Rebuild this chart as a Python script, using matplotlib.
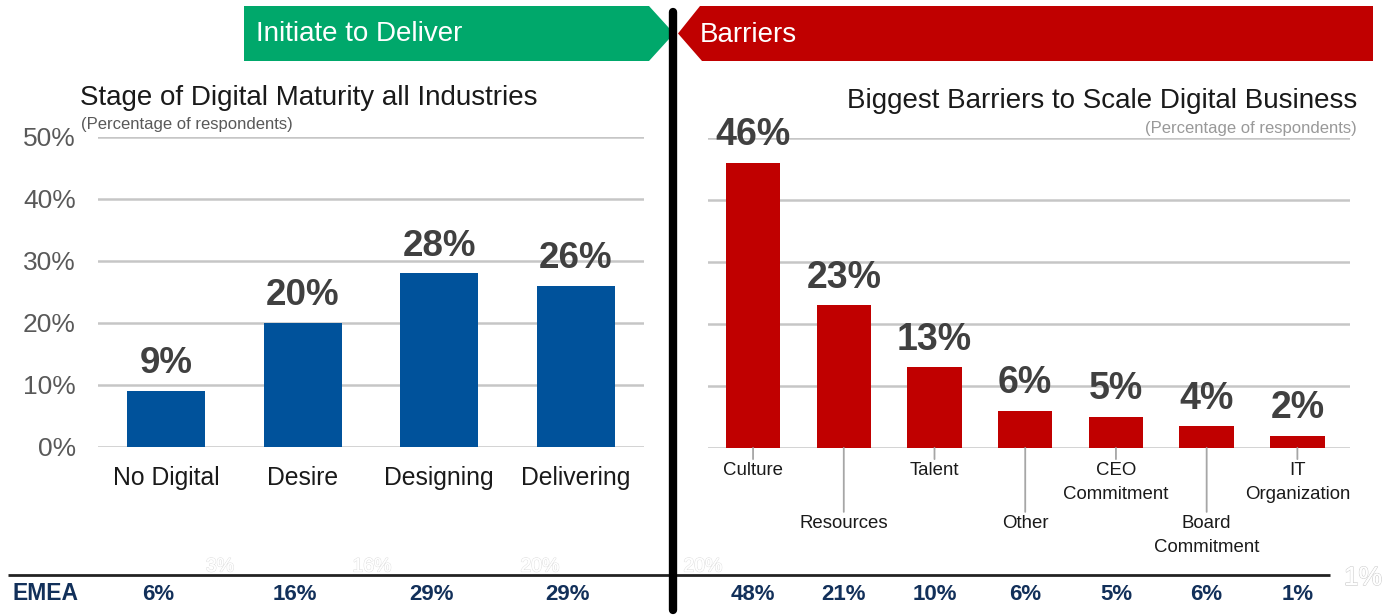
import matplotlib
matplotlib.use("Agg")
import matplotlib.pyplot as plt
from matplotlib.patches import Polygon
import matplotlib.patheffects as pe
import matplotlib.transforms as mtransforms

plt.rcParams['font.family'] = ['Liberation Sans', 'DejaVu Sans']

# ---- data ----
left_categories = ["No Digital", "Desire", "Designing", "Delivering"]
left_values = [9, 20, 28, 26]
left_labels = ["9%", "20%", "28%", "26%"]
left_emea = ["6%", "16%", "29%", "29%"]

right_categories = ["Culture", "Resources", "Talent", "Other", "CEO\nCommitment",
                    "Board\nCommitment", "IT\nOrganization"]
right_values = [46, 23, 13, 6, 5, 3.5, 2]
right_labels = ["46%", "23%", "13%", "6%", "5%", "4%", "2%"]
right_emea = ["48%", "21%", "10%", "6%", "5%", "6%", "1%"]
right_levels = [0, 1, 0, 1, 0, 1, 0]  # label staggering

yticks = [0, 10, 20, 30, 40, 50]
ytick_labels = ["0%", "10%", "20%", "30%", "40%", "50%"]

W, H = 1386, 615
fig = plt.figure(figsize=(W / 100, H / 100), dpi=100)
fig.patch.set_facecolor("white")

def fx(px):
    return px / W

def fy(py):
    return 1 - py / H

BLUE = "#00529B"
RED = "#C00000"
GREEN = "#00A86B"
GRID = "#C6C6C6"
VALC = "#404040"
NAVY = "#12305A"

# ---- banners ----
bax = fig.add_axes([0, 0, 1, 1])
bax.set_xlim(0, W)
bax.set_ylim(H, 0)
bax.axis("off")
bax.add_patch(Polygon([(244, 6), (649, 6), (674, 33.5), (649, 61), (244, 61)],
                      closed=True, facecolor=GREEN, edgecolor="none"))
bax.add_patch(Polygon([(700, 6), (1373, 6), (1373, 61), (702, 61), (678, 33.5)],
                      closed=True, facecolor=RED, edgecolor="none"))
bax.text(256, 34, "Initiate to Deliver", color="white", fontsize=20, va="center", ha="left")
bax.text(700, 35, "Barriers", color="white", fontsize=20, va="center", ha="left")

# ---- left chart ----
axL = fig.add_axes([fx(98), fy(447), fx(644) - fx(98), fy(137) - fy(447)])
xl = range(len(left_categories))
axL.bar(xl, left_values, width=0.57, color=BLUE, zorder=3)
axL.set_xlim(-0.5, 3.5)
axL.set_ylim(0, 50)
axL.set_yticks(yticks)
axL.set_yticklabels(ytick_labels, fontsize=19, color="#595959")
axL.tick_params(axis="y", length=0, pad=16)
axL.set_xticks(list(xl))
axL.set_xticklabels(left_categories, fontsize=17.8, color="#1a1a1a")
axL.tick_params(axis="x", length=0, pad=14)
axL.grid(axis="y", color=GRID, linewidth=1.8, zorder=0)
for s in axL.spines.values():
    s.set_visible(False)
for i, (v, lab) in enumerate(zip(left_values, left_labels)):
    axL.annotate(lab, (i, v), xytext=(0, 7), textcoords="offset points",
                 ha="center", va="bottom", fontsize=26.5, fontweight="bold", color=VALC)

# ---- right chart ----
axR = fig.add_axes([fx(707.7), fy(448), fx(1350) - fx(707.7), fy(138) - fy(448)])
xr = range(len(right_categories))
axR.bar(xr, right_values, width=0.6, color=RED, zorder=3)
axR.set_xlim(-0.5, 6.58)
axR.set_ylim(0, 50)
axR.set_yticks(yticks)
axR.set_yticklabels([])
axR.tick_params(axis="y", length=0)
axR.set_xticks([])
axR.grid(axis="y", color=GRID, linewidth=1.8, zorder=0)
for s in axR.spines.values():
    s.set_visible(False)
for i, (v, lab) in enumerate(zip(right_values, right_labels)):
    axR.annotate(lab, (i, v), xytext=(0, 7), textcoords="offset points",
                 ha="center", va="bottom", fontsize=27, fontweight="bold", color=VALC)
# staggered category labels with leader lines (offsets in points)
for i, (cat, lvl) in enumerate(zip(right_categories, right_levels)):
    line_len = 46 if lvl else 8
    axR.annotate("", xy=(i, 0), xytext=(0, -line_len), textcoords="offset points",
                 arrowprops=dict(arrowstyle="-", color="#A6A6A6", lw=1.3,
                                 shrinkA=0, shrinkB=0), annotation_clip=False)
    axR.annotate(cat, (i, 0), xytext=(0, -(line_len + 2)), textcoords="offset points",
                 ha="center", va="top", fontsize=13.4, color="#1a1a1a",
                 linespacing=1.55, annotation_clip=False)

# ---- titles ----
fig.text(fx(80), fy(98), "Stage of Digital Maturity all Industries", fontsize=20,
         ha="left", va="center", color="#1a1a1a")
fig.text(fx(81), fy(124), "(Percentage of respondents)", fontsize=12,
         ha="left", va="center", color="#595959")
fig.text(fx(1357), fy(101), "Biggest Barriers to Scale Digital Business", fontsize=20,
         ha="right", va="center", color="#1a1a1a")
fig.text(fx(1357), fy(128), "(Percentage of respondents)", fontsize=12,
         ha="right", va="center", color="#999999")

# ---- faint ghost labels ----
ghost = [(220, 567, "3%"), (372, 567, "16%"), (540, 567, "20%"), (703, 567, "20%")]
for gx, gy, gt in ghost:
    t = fig.text(fx(gx), fy(gy), gt, fontsize=14, ha="center", va="center", color="white")
    t.set_path_effects([pe.withStroke(linewidth=0.9, foreground="#E0E0E0"), pe.Normal()])
t = fig.text(fx(1363), fy(578), "1%", fontsize=19, ha="center", va="center", color="white")
t.set_path_effects([pe.withStroke(linewidth=1.0, foreground="#D0D0D0"), pe.Normal()])

# ---- EMEA row ----
bax.plot([8, 1330], [575, 575], color="#222222", lw=2, solid_capstyle="butt")
bax.text(12, 594, "EMEA", fontsize=16.5, fontweight="bold", color=NAVY, ha="left", va="center")
trL = mtransforms.blended_transform_factory(axL.transData, fig.transFigure)
for i, lab in enumerate(left_emea):
    fig.text(i - 0.06, fy(594), lab, transform=trL, fontsize=16, fontweight="bold",
             color=NAVY, ha="center", va="center")
trR = mtransforms.blended_transform_factory(axR.transData, fig.transFigure)
for i, lab in enumerate(right_emea):
    fig.text(i, fy(594), lab, transform=trR, fontsize=16, fontweight="bold",
             color=NAVY, ha="center", va="center")

# ---- divider ----
bax.plot([673, 673], [12, 610], color="black", lw=6, solid_capstyle="round", zorder=10)

fig.savefig("out.png", dpi=100, facecolor="white")
